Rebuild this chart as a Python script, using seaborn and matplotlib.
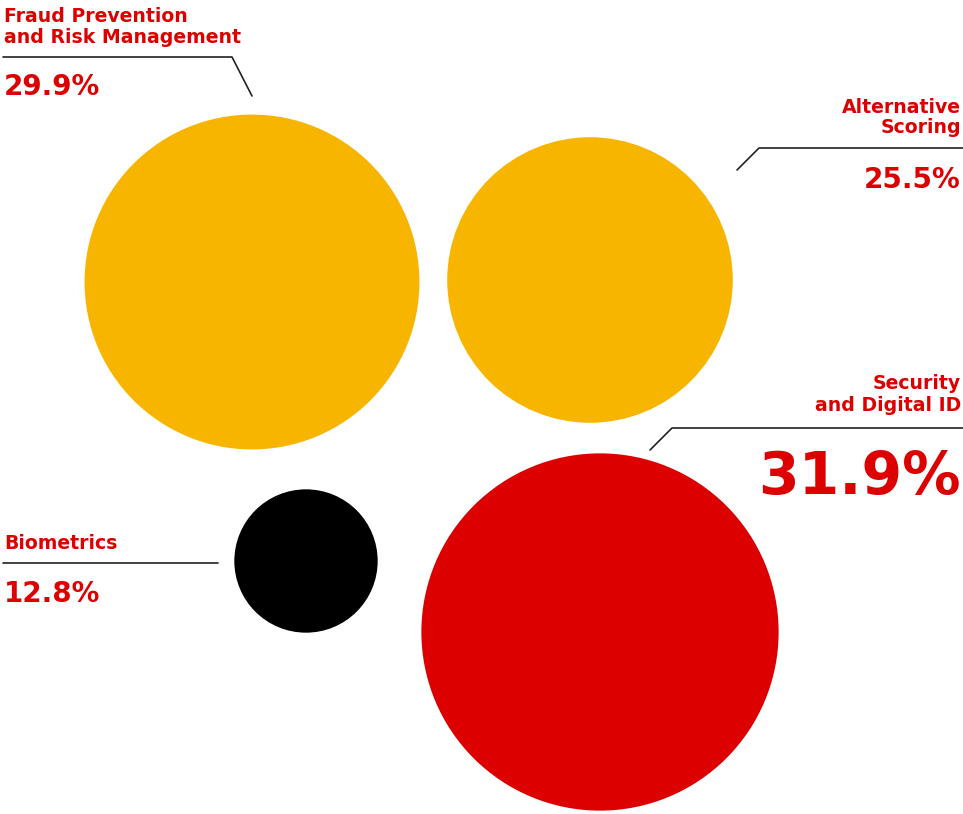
import pandas as pd
import matplotlib.pyplot as plt
import seaborn as sns

# data
categories = ["Fraud Prevention\nand Risk Management", "Alternative\nScoring",
              "Security\nand Digital ID", "Biometrics"]
shares = [29.9, 25.5, 31.9, 12.8]
pct_labels = ["29.9%", "25.5%", "31.9%", "12.8%"]

# layout (pixel space, y down)
centers_x = [252, 590, 600, 306]
centers_y = [282, 280, 632, 561]
colors = ["#F8B500", "#F8B500", "#DC0000", "#000000"]
RED = "#DC0000"
px_per_unit = 5.6  # bubble radius in px per percentage point

df = pd.DataFrame({"cat": categories, "share": shares,
                   "x": centers_x, "y": centers_y})

sns.set_style("white")
plt.rcParams['font.family'] = ['DejaVu Sans']

W, H, DPI = 963, 814, 100
fig = plt.figure(figsize=(W / DPI, H / DPI), dpi=DPI)
ax = fig.add_axes([0, 0, 1, 1])

# marker area in pt^2 so radius (px) = px_per_unit * share
sizes = {c: (2 * px_per_unit * v * 72 / DPI) ** 2 for c, v in zip(categories, shares)}
sns.scatterplot(data=df, x="x", y="y", hue="cat", size="cat",
                palette=dict(zip(categories, colors)), sizes=sizes,
                linewidth=0, legend=False, ax=ax, zorder=2)

ax.set_xlim(0, W)
ax.set_ylim(H, 0)
ax.axis("off")

# labels: (x anchor, ha, first baseline, line spacing, pct baseline, pct size)
name_fs = 13.6
lab = [
    (4, "left", 22, 21, 95, 20),
    (961, "right", 113, 20, 188, 20),
    (961, "right", 389, 22, 494, 42),
    (4, "left", 549, 21, 602, 20),
]
for cat, pct, (x, ha, b0, ls, pb, pfs) in zip(categories, pct_labels, lab):
    for i, line in enumerate(cat.split("\n")):
        ax.text(x, b0 + i * ls, line, ha=ha, va="baseline", color=RED,
                fontsize=name_fs, fontweight="bold")
    ax.text(x, pb, pct, ha=ha, va="baseline", color=RED,
            fontsize=pfs, fontweight="bold")

# leader lines
leaders = [
    ([3, 232, 252], [57, 57, 96]),
    ([963, 759, 737], [148, 148, 170]),
    ([963, 672, 650], [428, 428, 450]),
    ([3, 218], [563, 563]),
]
for xs, ys in leaders:
    ax.plot(xs, ys, color="#222222", lw=1.2, zorder=1)

plt.savefig("out.png", dpi=DPI)
